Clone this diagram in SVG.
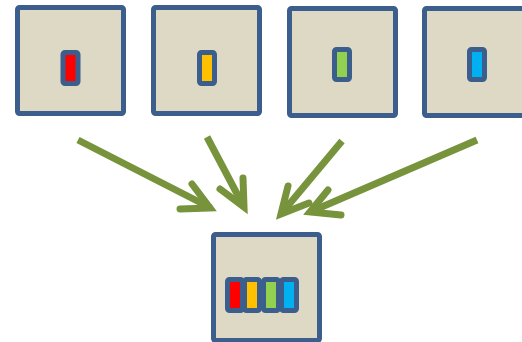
<svg xmlns="http://www.w3.org/2000/svg" width="522" height="342" viewBox="0 0 522 342">
<style>
.box{fill:#DDD9C4;stroke:#3B5E8C;stroke-width:5;}
.chip{stroke:#3B5E8C;stroke-width:5;}
.shaft{fill:none;stroke:#77933C;stroke-width:7;stroke-linecap:butt;}
.head{fill:none;stroke:#77933C;stroke-width:7;stroke-linecap:round;stroke-linejoin:miter;stroke-miterlimit:10;}
</style>
<rect width="522" height="342" fill="#FFFFFF"/>
<g id="connectors">
<path class="shaft" d="M78,140 L211,208"/>
<path class="head" d="M192,184 L210,208 L180,209"/>
<path class="shaft" d="M207,137 L244,207"/>
<path class="head" d="M243,178 L244,207 L220,189"/>
<path class="shaft" d="M342,141 L281,214"/>
<path class="head" d="M288,186 L281,214 L309,203"/>
<path class="shaft" d="M477,140 L310,212"/>
<path class="head" d="M328,190 L310,212 L341,215"/>
</g>
<g id="node1">
<rect class="box" x="17.5" y="7.5" width="106" height="106" rx="2"/>
<rect class="chip" x="63" y="52.5" width="15" height="31" rx="2" fill="#FF0000"/>
</g>
<g id="node2">
<rect class="box" x="153.5" y="7.5" width="106" height="106" rx="2"/>
<rect class="chip" x="199.5" y="52.5" width="15" height="31" rx="2" fill="#FFC000"/>
</g>
<g id="node3">
<rect class="box" x="289.5" y="8.5" width="106" height="107" rx="2"/>
<rect class="chip" x="334.5" y="49.5" width="15" height="30" rx="2" fill="#92D050"/>
</g>
<g id="node4">
<rect class="box" x="424.5" y="8.5" width="106" height="107" rx="2"/>
<rect class="chip" x="469.5" y="49.5" width="15" height="30" rx="2" fill="#00B0F0"/>
</g>
<g id="node5">
<rect class="box" x="213.5" y="234.5" width="106" height="106" rx="2"/>
<rect class="chip" x="227.5" y="279.5" width="15" height="31" rx="2" fill="#FF0000"/>
<rect class="chip" x="244.5" y="279.5" width="15" height="31" rx="2" fill="#FFC000"/>
<rect class="chip" x="263.5" y="279.5" width="15" height="31" rx="2" fill="#92D050"/>
<rect class="chip" x="281.5" y="279.5" width="15" height="31" rx="2" fill="#00B0F0"/>
</g>
</svg>
